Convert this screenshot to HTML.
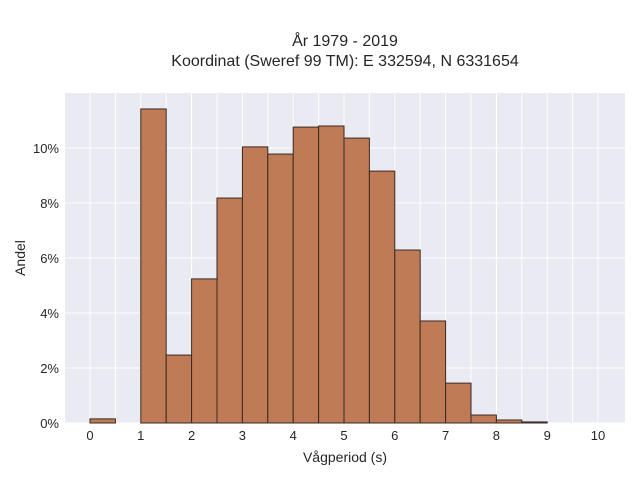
<!DOCTYPE html>
<html><head><meta charset="utf-8"><style>
body{margin:0;background:#fff;font-family:"Liberation Sans",sans-serif}
</style></head><body>
<svg id="chart" width="640" height="480" xmlns="http://www.w3.org/2000/svg" font-family="Liberation Sans, sans-serif">
<text x="345" y="46" text-anchor="middle" font-size="16" fill="#262626">År 1979 - 2019</text>
<text x="345" y="66" text-anchor="middle" font-size="16" fill="#262626">Koordinat (Sweref 99 TM): E 332594, N 6331654</text>
<rect x="65" y="93" width="560" height="330" fill="#eaeaf2"/>
<g id="grid"></g><g id="bars"></g><g id="ticks"></g>
<text x="345" y="462" text-anchor="middle" font-size="14" fill="#262626">Vågperiod (s)</text>
<text x="25" y="258" text-anchor="middle" font-size="14" fill="#262626" transform="rotate(-90 25 258)">Andel</text>
</svg>
<script>
const binStarts=[0,0.5,1,1.5,2,2.5,3,3.5,4,4.5,5,5.5,6,6.5,7,7.5,8,8.5,9,9.5];
const binValues=[0.15,0,11.42,2.47,5.24,8.18,10.04,9.78,10.76,10.8,10.36,9.16,6.29,3.71,1.45,0.29,0.11,0.04,0,0];
const xTicks=[0,1,2,3,4,5,6,7,8,9,10];
const yTicks=[0,2,4,6,8,10];
const binWidth=0.5;
const NS="http://www.w3.org/2000/svg";
const X=v=>90+v*50.8, Y=v=>423-v*27.5;
const grid=document.getElementById('grid'),bars=document.getElementById('bars'),ticks=document.getElementById('ticks');
function mk(tag,attrs,parent){const e=document.createElementNS(NS,tag);for(const k in attrs)e.setAttribute(k,attrs[k]);parent.appendChild(e);return e;}
for(let v=0;v<=10;v+=0.5){const l=mk('line',{x1:X(v),x2:X(v),y1:93,y2:423,stroke:'#fff','stroke-width':1},grid);

}
yTicks.forEach(t=>{const l=mk('line',{x1:65,x2:625,y1:Y(t),y2:Y(t),stroke:'#fff','stroke-width':1},grid);


const tx=mk('text',{x:59,y:Y(t)+5,'text-anchor':'end','font-size':13,fill:'#262626'},ticks);tx.textContent=t+'%';

});
xTicks.forEach(t=>{const tx=mk('text',{x:X(t),y:440,'text-anchor':'middle','font-size':13,fill:'#262626'},ticks);tx.textContent=t;

});
binStarts.forEach((s,i)=>{const v=binValues[i];if(v<=0)return;
const r=mk('rect',{x:X(s),y:Y(v),width:X(s+binWidth)-X(s),height:Y(0)-Y(v),fill:'#bf7b56',stroke:'#3a2a22','stroke-width':1},bars);

});
</script>
</body></html>
